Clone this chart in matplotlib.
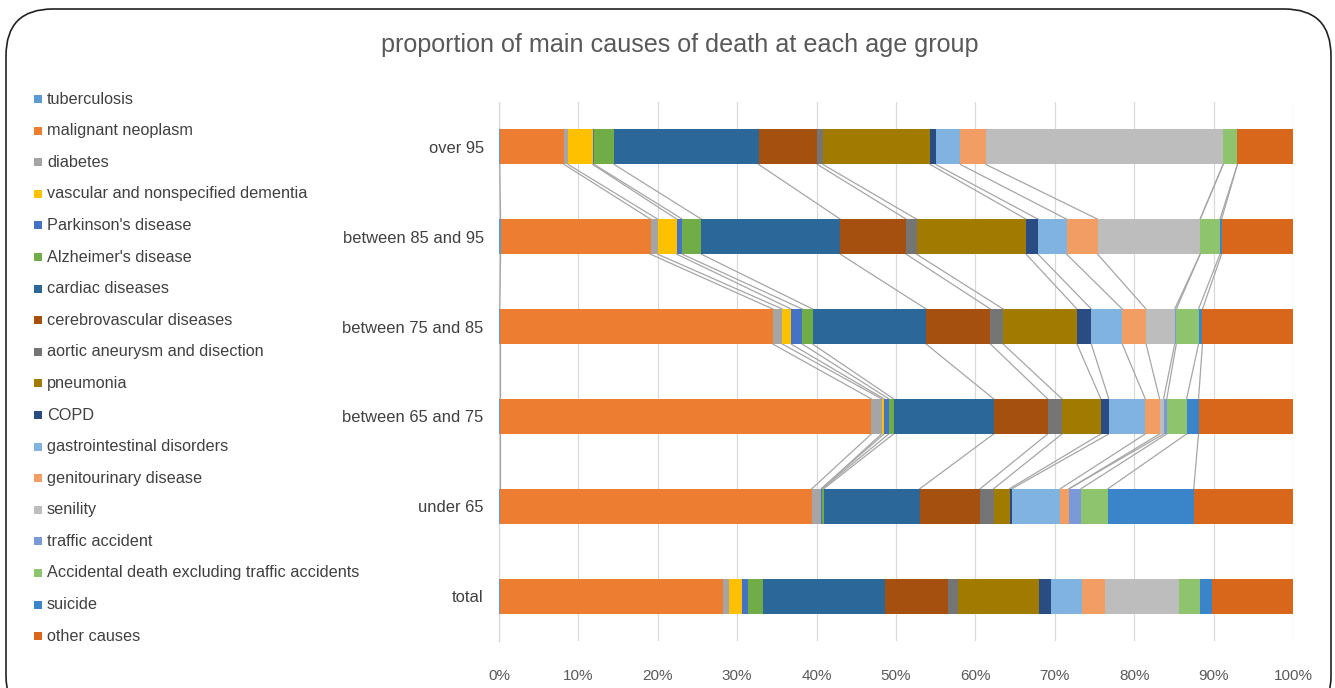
import matplotlib
matplotlib.use("Agg")
import matplotlib.pyplot as plt
from matplotlib.patches import FancyBboxPatch, Rectangle
import numpy as np

plt.rcParams['font.family'] = ['Liberation Sans Narrow', 'Liberation Sans', 'DejaVu Sans']

title = "proportion of main causes of death at each age group"
categories = ["total", "under 65", "between 65 and 75", "between 75 and 85",
              "between 85 and 95", "over 95"]
series_names = ["tuberculosis", "malignant neoplasm", "diabetes",
                "vascular and nonspecified dementia", "Parkinson's disease",
                "Alzheimer's disease", "cardiac diseases", "cerebrovascular diseases",
                "aortic aneurysm and disection", "pneumonia", "COPD",
                "gastrointestinal disorders", "genitourinary disease", "senility",
                "traffic accident", "Accidental death excluding traffic accidents",
                "suicide", "other causes"]
series_colors = ["#5B9BD5", "#ED7D31", "#A5A5A5", "#FFC000", "#4472C4", "#70AD47",
                 "#2C6799", "#A5500F", "#757575", "#A07B00", "#294C83", "#80B3E0",
                 "#F29D64", "#BDBDBD", "#7A99D9", "#8FC46E", "#3A84C9", "#D9671B"]

# values in percent, order follows categories (total, under 65, 65-75, 75-85, 85-95, over 95)
tuberculosis = [0.1, 0.1, 0.1, 0.1, 0.2, 0.1]
malignant_neoplasm = [28.1, 39.3, 46.8, 34.4, 18.9, 8.1]
diabetes = [0.8, 1.2, 1.3, 1.2, 0.9, 0.5]
dementia = [1.6, 0.0, 0.3, 1.1, 2.4, 3.1]
parkinson = [0.8, 0.1, 0.6, 1.4, 0.7, 0.2]
alzheimer = [1.8, 0.2, 0.6, 1.3, 2.4, 2.5]
cardiac = [15.4, 12.1, 12.6, 14.3, 17.5, 18.2]
cerebrovascular = [8.0, 7.6, 6.8, 8.1, 8.3, 7.4]
aortic = [1.2, 1.7, 1.8, 1.6, 1.3, 0.7]
pneumonia = [10.2, 2.0, 4.9, 9.3, 13.8, 13.5]
copd = [1.5, 0.3, 1.0, 1.8, 1.5, 0.7]
gastrointestinal = [3.9, 6.1, 4.6, 3.9, 3.6, 3.1]
genitourinary = [2.9, 1.1, 1.8, 3.0, 3.9, 3.2]
senility = [9.3, 0.0, 0.5, 3.6, 12.9, 29.9]
traffic = [0.1, 1.5, 0.4, 0.2, 0.0, 0.0]
accidental = [2.6, 3.4, 2.5, 2.8, 2.5, 1.8]
suicide = [1.5, 10.8, 1.5, 0.5, 0.2, 0.0]
other = [10.2, 12.5, 11.9, 11.4, 9.0, 7.0]

xticks = [0, 10, 20, 30, 40, 50, 60, 70, 80, 90, 100]
xtick_labels = ["0%", "10%", "20%", "30%", "40%", "50%", "60%", "70%", "80%", "90%", "100%"]

all_series = [tuberculosis, malignant_neoplasm, diabetes, dementia, parkinson, alzheimer,
              cardiac, cerebrovascular, aortic, pneumonia, copd, gastrointestinal,
              genitourinary, senility, traffic, accidental, suicide, other]

W, H = 1335, 688
fig = plt.figure(figsize=(W / 100, H / 100), dpi=100)

# rounded frame
frame = FancyBboxPatch((6 / W, -0.05), (W - 10) / W, 1.05 - 9 / H,
                       boxstyle="round,pad=0,rounding_size=0.035",
                       transform=fig.transFigure, fill=False, edgecolor="#222222",
                       linewidth=1.2, mutation_aspect=W / H)
fig.patches.append(frame)

ax = fig.add_axes([499 / W, 1 - 641 / H, (1293 - 499) / W, (641 - 102) / H])

vals = np.array(all_series, dtype=float)
vals = vals / vals.sum(axis=0) * 100
y = np.arange(len(categories))
bh = 0.39
left = np.zeros(len(categories))
for i, name in enumerate(series_names):
    ax.barh(y, vals[i], left=left, height=bh, color=series_colors[i],
            edgecolor="none", zorder=3)
    left = left + vals[i]

# series lines between adjacent categories (except between total and under 65)
cum = np.cumsum(vals, axis=0)
for i in range(len(series_names) - 1):
    for j in range(1, len(categories) - 1):
        ax.plot([cum[i, j], cum[i, j + 1]], [j + bh / 2, j + 1 - bh / 2],
                color="#A6A6A6", linewidth=0.9, zorder=2)

ax.set_xlim(0, 100)
ax.set_ylim(-0.5, len(categories) - 0.5)
ax.set_xticks(xticks)
ax.set_xticklabels(xtick_labels, fontsize=11, color="#595959")
ax.set_yticks(y)
ax.set_yticklabels(categories, fontsize=11.9, color="#404040")
ax.tick_params(axis="x", length=0, pad=20)
ax.tick_params(axis="y", length=0, pad=11)
ax.grid(axis="x", color="#D9D9D9", linewidth=0.9, zorder=0)
for s in ["top", "right", "bottom"]:
    ax.spines[s].set_visible(False)
ax.spines["left"].set_color("#BFBFBF")
ax.spines["left"].set_zorder(1)

fig.text(680 / W, 1 - 45 / H, title, ha="center", va="center", fontsize=18.1,
         color="#595959")

# legend
for i, name in enumerate(series_names):
    yc = 99 + i * 31.6
    fig.patches.append(Rectangle((34 / W, 1 - (yc + 4) / H), 8 / W, 8 / H,
                                 transform=fig.transFigure, facecolor=series_colors[i],
                                 edgecolor="none"))
    fig.text(47 / W, 1 - yc / H, name, ha="left", va="center", fontsize=11.7,
             color="#404040")

fig.savefig("out.png", dpi=100)
